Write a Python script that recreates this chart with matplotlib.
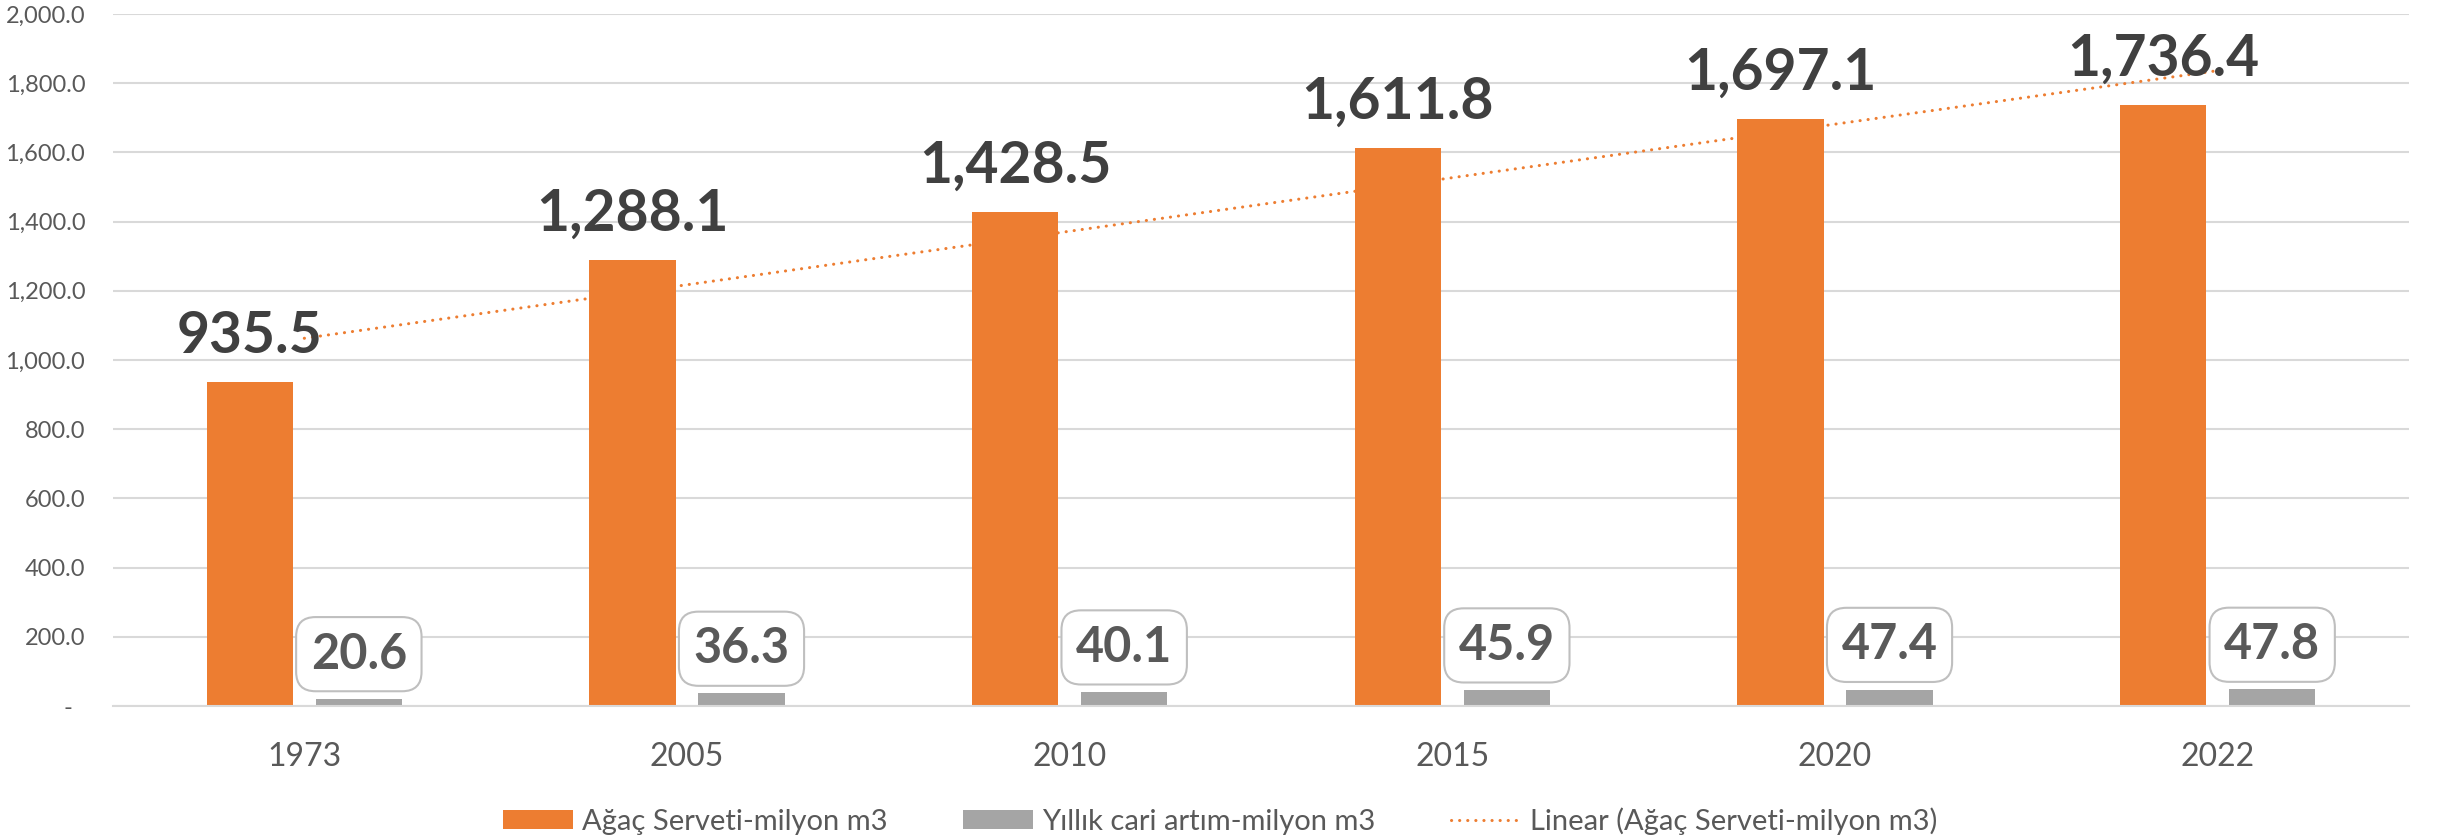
import numpy as np
import matplotlib.pyplot as plt

# Chart data
years = ['1973', '2005', '2010', '2015', '2020', '2022']
agac_serveti = [935.5, 1288.1, 1428.5, 1611.8, 1697.1, 1736.4]
yillik_artim = [20.6, 36.3, 40.1, 45.9, 47.4, 47.8]
y_ticks = [0, 200, 400, 600, 800, 1000, 1200, 1400, 1600, 1800, 2000]

orange = '#ED7D31'
grey = '#A5A5A5'
text_col = '#595959'
grid_col = '#D9D9D9'

plt.rcParams['font.family'] = ['Lato', 'DejaVu Sans']

fig = plt.figure(figsize=(24.4, 8.38), dpi=100)
ax = fig.add_axes([0.0463, 0.1575, 0.941, 0.8258])

x = np.arange(len(years))
w = 0.225
off = 0.1425

ax.bar(x - off, agac_serveti, w, color=orange, label='Ağaç Serveti-milyon m3', zorder=2)
ax.bar(x + off, yillik_artim, w, color=grey, label='Yıllık cari artım-milyon m3', zorder=2)

# linear trendline as in Excel
coef = np.polyfit(x + 1, agac_serveti, 1)
trend = np.polyval(coef, x + 1)
ax.plot(x, trend, color=orange, lw=2.2, linestyle=(0, (0.05, 2.6)),
        dash_capstyle='round', label='Linear (Ağaç Serveti-milyon m3)', zorder=3)

# value labels
for xi, v in zip(x, agac_serveti):
    ax.annotate(f'{v:,.1f}', (xi - off, v), xytext=(0, 21), textcoords='offset points',
                ha='center', va='baseline', fontsize=41, fontweight='bold',
                color='#404040', zorder=4)

for xi, v in zip(x, yillik_artim):
    ax.annotate(f'{v:,.1f}', (xi + off, v), xytext=(0, 16), textcoords='offset points',
                ha='center', va='bottom', fontsize=35, fontweight='bold', color=text_col,
                bbox=dict(boxstyle='round,pad=0.3,rounding_size=0.4', fc='white',
                          ec='#BFBFBF', lw=1.5), zorder=4)

ax.set_xlim(-0.5, len(years) - 0.5)
ax.set_ylim(0, 2000)
ax.set_yticks(y_ticks)
ax.set_yticklabels(['-  '] + [f'{t:,.1f}' for t in y_ticks[1:]])
ax.set_xticks(x)
ax.set_xticklabels(years)
ax.tick_params(axis='y', length=0, pad=20, labelsize=17, labelcolor=text_col)
ax.tick_params(axis='x', length=0, pad=26, labelsize=23, labelcolor=text_col)

ax.grid(axis='y', color=grid_col, lw=1.5, zorder=0)
for s in ['top', 'right', 'left']:
    ax.spines[s].set_visible(False)
ax.spines['bottom'].set_color(grid_col)
ax.spines['bottom'].set_linewidth(1.5)

handles, labels = ax.get_legend_handles_labels()
order = [1, 2, 0]
fig.legend([handles[i] for i in order], [labels[i] for i in order],
           loc='center', bbox_to_anchor=(0.5, 0.02), ncol=3, frameon=False,
           fontsize=21, labelcolor=text_col, handlelength=2.4, handleheight=0.62,
           handletextpad=0.3, columnspacing=2.6)

plt.savefig('out.png', dpi=100)
